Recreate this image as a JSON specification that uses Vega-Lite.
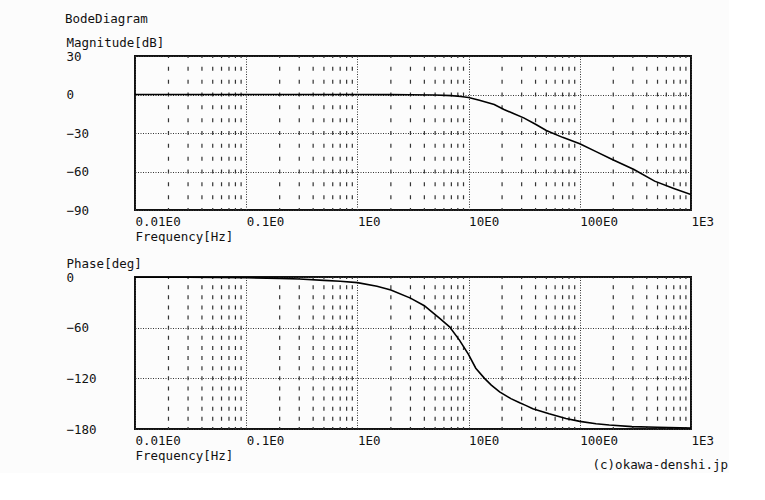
{
  "$schema": "https://vega.github.io/schema/vega-lite/v6.json",
  "background": "#fcfcfc",
  "padding": {"left": 65, "top": 12, "right": 0, "bottom": 0},
  "title": {"text": "BodeDiagram", "anchor": "start", "frame": "bounds", "font": "DejaVu Sans Mono", "fontSize": 12.5, "fontWeight": "normal", "color": "#111", "offset": 10},
  "datasets": {
    "mag": [
      {"f": 0.01, "v": 0}, {"f": 0.1, "v": 0}, {"f": 1, "v": -0.05}, {"f": 2, "v": -0.1}, {"f": 3, "v": -0.2},
      {"f": 5, "v": -0.4}, {"f": 7, "v": -0.9}, {"f": 8.5, "v": -1.5}, {"f": 10, "v": -2.3}, {"f": 12.5, "v": -4.5},
      {"f": 15, "v": -6.5}, {"f": 17, "v": -7.8}, {"f": 20.8, "v": -11.7}, {"f": 25, "v": -14.6}, {"f": 31.3, "v": -18.2},
      {"f": 40, "v": -23.2}, {"f": 50, "v": -28}, {"f": 70, "v": -33.4}, {"f": 100, "v": -38.4}, {"f": 140, "v": -44.5},
      {"f": 196, "v": -50.6}, {"f": 307, "v": -58.4}, {"f": 471, "v": -67.5}, {"f": 700, "v": -73.2}, {"f": 1000, "v": -78}
    ],
    "phase": [
      {"f": 0.01, "v": -0.1}, {"f": 0.03, "v": -0.3}, {"f": 0.1, "v": -0.8}, {"f": 0.2, "v": -1.6}, {"f": 0.3, "v": -2.4},
      {"f": 0.5, "v": -4}, {"f": 0.7, "v": -5}, {"f": 1, "v": -6.7}, {"f": 1.5, "v": -11}, {"f": 2, "v": -15.4},
      {"f": 3, "v": -25}, {"f": 4, "v": -34}, {"f": 4.64, "v": -41}, {"f": 5.5, "v": -49}, {"f": 6.74, "v": -59},
      {"f": 8.3, "v": -75}, {"f": 10, "v": -92}, {"f": 11.6, "v": -108}, {"f": 13.9, "v": -120}, {"f": 16, "v": -128},
      {"f": 19, "v": -136}, {"f": 24, "v": -144}, {"f": 28.8, "v": -149}, {"f": 32.6, "v": -152}, {"f": 37.8, "v": -156},
      {"f": 53, "v": -162}, {"f": 75, "v": -167.5}, {"f": 100, "v": -171}, {"f": 140, "v": -173.8}, {"f": 184, "v": -175.3},
      {"f": 294, "v": -177.2}, {"f": 500, "v": -178}, {"f": 1000, "v": -178.8}
    ],
    "minor": [
      {"f": 0.02}, {"f": 0.03}, {"f": 0.04}, {"f": 0.05}, {"f": 0.06}, {"f": 0.07}, {"f": 0.08}, {"f": 0.09},
      {"f": 0.2}, {"f": 0.3}, {"f": 0.4}, {"f": 0.5}, {"f": 0.6}, {"f": 0.7}, {"f": 0.8}, {"f": 0.9},
      {"f": 2}, {"f": 3}, {"f": 4}, {"f": 5}, {"f": 6}, {"f": 7}, {"f": 8}, {"f": 9},
      {"f": 20}, {"f": 30}, {"f": 40}, {"f": 50}, {"f": 60}, {"f": 70}, {"f": 80}, {"f": 90},
      {"f": 200}, {"f": 300}, {"f": 400}, {"f": 500}, {"f": 600}, {"f": 700}, {"f": 800}, {"f": 900}
    ]
  },
  "bounds": "flush",
  "spacing": 67,
  "vconcat": [
    {
      "width": 556,
      "height": 154,
      "encoding": {
        "x": {
          "field": "f", "type": "quantitative",
          "scale": {"type": "log", "domain": [0.01, 1000], "nice": false},
          "axis": {
            "values": [0.01, 0.1, 1, 10, 100, 1000],
            "labelExpr": "datum.value < 0.05 ? '0.01E0' : datum.value < 0.5 ? '0.1E0' : datum.value < 5 ? '1E0' : datum.value < 50 ? '10E0' : datum.value < 500 ? '100E0' : '1E3'",
            "labelAlign": "left", "labelBaseline": "top", "labelPadding": 5, "labelOverlap": false, "labelBound": false, "labelFlush": false,
            "title": "Frequency[Hz]", "titleAnchor": "start", "titleAlign": "left", "titlePadding": 3
          }
        }
      },
      "layer": [
        {
          "data": {"name": "minor"},
          "mark": {"type": "rule", "color": "#333", "strokeWidth": 1.2, "strokeDash": [4, 8.83], "strokeDashOffset": 2}
        },
        {
          "data": {"name": "mag"},
          "mark": {"type": "line", "color": "#000", "strokeWidth": 1.6, "clip": true},
          "encoding": {
            "y": {
              "field": "v", "type": "quantitative",
              "scale": {"domain": [-90, 30], "nice": false, "zero": false},
              "axis": {
                "values": [30, 0, -30, -60, -90],
                "labelAlign": "left", "labelBaseline": "middle", "labelPadding": 69, "labelOverlap": false, "labelBound": false, "labelFlush": false,
                "title": "Magnitude[dB]", "titleAngle": 0, "titleAlign": "left", "titleBaseline": "middle", "titleX": -69, "titleY": -14
              }
            }
          }
        }
      ]
    },
    {
      "width": 556,
      "height": 152,
      "title": {"text": "(c)okawa-denshi.jp", "orient": "bottom", "anchor": "end", "frame": "group", "font": "DejaVu Sans Mono", "fontSize": 12.5, "fontWeight": "normal", "color": "#111", "offset": 3, "dx": 37, "dy": -6},
      "encoding": {
        "x": {
          "field": "f", "type": "quantitative",
          "scale": {"type": "log", "domain": [0.01, 1000], "nice": false},
          "axis": {
            "values": [0.01, 0.1, 1, 10, 100, 1000],
            "labelExpr": "datum.value < 0.05 ? '0.01E0' : datum.value < 0.5 ? '0.1E0' : datum.value < 5 ? '1E0' : datum.value < 50 ? '10E0' : datum.value < 500 ? '100E0' : '1E3'",
            "labelAlign": "left", "labelBaseline": "top", "labelPadding": 5, "labelOverlap": false, "labelBound": false, "labelFlush": false,
            "title": "Frequency[Hz]", "titleAnchor": "start", "titleAlign": "left", "titlePadding": 3
          }
        }
      },
      "layer": [
        {
          "data": {"name": "minor"},
          "mark": {"type": "rule", "color": "#333", "strokeWidth": 1.2, "strokeDash": [4, 6.13], "strokeDashOffset": 2}
        },
        {
          "data": {"name": "phase"},
          "mark": {"type": "line", "color": "#000", "strokeWidth": 1.6, "clip": true},
          "encoding": {
            "y": {
              "field": "v", "type": "quantitative",
              "scale": {"domain": [-180, 0], "nice": false, "zero": false},
              "axis": {
                "values": [0, -60, -120, -180],
                "labelAlign": "left", "labelBaseline": "middle", "labelPadding": 69, "labelOverlap": false, "labelBound": false, "labelFlush": false,
                "title": "Phase[deg]", "titleAngle": 0, "titleAlign": "left", "titleBaseline": "middle", "titleX": -69, "titleY": -14
              }
            }
          }
        }
      ]
    }
  ],
  "config": {
    "font": "DejaVu Sans Mono",
    "view": {"stroke": "#111", "strokeWidth": 2},
    "axis": {
      "labelFont": "DejaVu Sans Mono", "labelFontSize": 12.5, "labelColor": "#111",
      "titleFont": "DejaVu Sans Mono", "titleFontSize": 12.5, "titleFontWeight": "normal", "titleColor": "#111",
      "domain": false, "ticks": false, "tickSize": 0,
      "grid": true, "gridColor": "#333", "gridDash": [1, 1.5], "gridWidth": 1, "gridOpacity": 1
    }
  }
}
